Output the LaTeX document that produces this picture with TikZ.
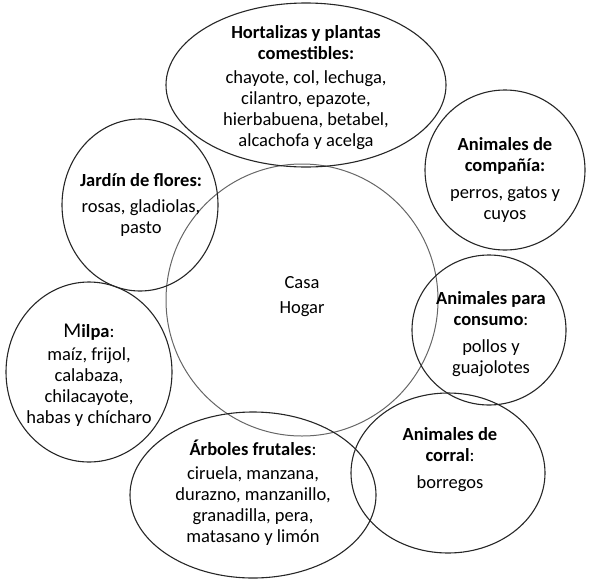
\documentclass[tikz,border=0pt]{standalone}
\usepackage{fontspec}
\setmainfont{Carlito}
\begin{document}
\begin{tikzpicture}[x=1pt,y=-1pt,
  ring/.style={draw=black!85,line width=1.1pt},
  txt/.style={align=center,font=\fontsize{18.5}{21}\selectfont,inner sep=0pt}]
\useasboundingbox (0,0) rectangle (604,581);
\draw[draw=black!60,line width=1pt] (302,300) circle (136);
\draw[ring] (306,85) ellipse (140 and 82);
\draw[ring] (140,205) ellipse (78 and 86);
\draw[ring] (505,170) circle (80);
\draw[ring] (489,330) ellipse (77 and 75);
\draw[ring] (89,372) ellipse (83 and 90);
\draw[ring] (253,495) ellipse (123 and 83);
\draw[ring] (448,473) ellipse (97 and 80);
\node[txt] (casa) at (302,297) {Casa\\[4pt]Hogar};
\node[txt] (hort) at (306,88) {\textbf{Hortalizas y plantas}\\\textbf{comestibles:}\\[3pt]chayote, col, lechuga,\\cilantro, epazote,\\hierbabuena, betabel,\\alcachofa y acelga};
\node[txt] (jard) at (141,205) {\textbf{Jardín de flores:}\\[5pt]rosas, gladiolas,\\pasto};
\node[txt] (comp) at (505,180) {\textbf{Animales de}\\\textbf{compañía:}\\[6pt]perros, gatos y\\cuyos};
\node[txt] (cons) at (491,334) {\textbf{Animales para}\\\textbf{consumo}:\\[6pt]pollos y\\guajolotes};
\node[txt] (milp) at (89,375) {{\fontsize{21}{21}\selectfont M}\textbf{ilpa}:\\[2pt]maíz, frijol,\\calabaza,\\chilacayote,\\habas y chícharo};
\node[txt] (arbo) at (253,493) {\textbf{Árboles frutales}:\\[3pt]ciruela, manzana,\\durazno, manzanillo,\\granadilla, pera,\\matasano y limón};
\node[txt] (corr) at (450,460) {\textbf{Animales de}\\\textbf{corral}:\\[6pt]borregos};
\end{tikzpicture}
\end{document}
